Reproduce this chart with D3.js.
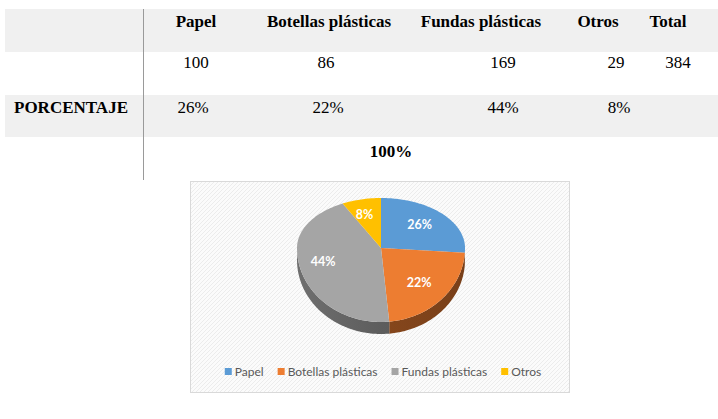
<!DOCTYPE html>
<html>
<head>
<meta charset="utf-8">
<script src="https://cdn.jsdelivr.net/npm/d3@7"></script>
<style>
html,body{margin:0;padding:0;background:#fff;}
svg{display:block;}
</style>
</head>
<body>
<svg id="c" width="718" height="419"></svg>
<script>
// ---- data ----
const categories = ["Papel", "Botellas plásticas", "Fundas plásticas", "Otros"];
const counts = [100, 86, 169, 29];
const totalLabel = "Total";
const totalCount = 384;
const percentLabels = ["26%", "22%", "44%", "8%"];
const rowLabel = "PORCENTAJE";
const totalPercent = "100%";
const colors = ["#5B9BD5", "#ED7D31", "#A5A5A5", "#FFC000"];

const svg = d3.select("#c");
const serif = "'Liberation Serif','Times New Roman',serif";

// ---- table ----
svg.append("rect").attr("x", 5).attr("y", 9).attr("width", 713).attr("height", 43).attr("fill", "#f0f0f0");
svg.append("rect").attr("x", 5).attr("y", 95).attr("width", 713).attr("height", 42).attr("fill", "#f0f0f0");
svg.append("line").attr("x1", 143.5).attr("x2", 143.5).attr("y1", 9).attr("y2", 180)
  .attr("stroke", "#9a9a9a").attr("stroke-width", 1);

const headerX = [196, 329, 481, 598, 668];
const countX = [196, 326, 503, 616, 678];
const pctX = [193, 328, 503, 619];

const headers = categories.concat([totalLabel]);
svg.selectAll("text.hdr").data(headers).enter().append("text")
  .attr("class", "hdr").attr("x", (d, i) => headerX[i]).attr("y", 27)
  .attr("text-anchor", "middle").attr("font-family", serif).attr("font-weight", "bold")
  .attr("font-size", 17).attr("fill", "#000").text(d => d);

svg.selectAll("text.cnt").data(counts.concat([totalCount])).enter().append("text")
  .attr("class", "cnt").attr("x", (d, i) => countX[i]).attr("y", 68)
  .attr("text-anchor", "middle").attr("font-family", serif)
  .attr("font-size", 17).attr("fill", "#000").text(d => d);

svg.append("text").attr("x", 14).attr("y", 113).attr("font-family", serif).attr("font-weight", "bold")
  .attr("font-size", 17).attr("fill", "#000").text(rowLabel);

svg.selectAll("text.pct").data(percentLabels).enter().append("text")
  .attr("class", "pct").attr("x", (d, i) => pctX[i]).attr("y", 113)
  .attr("text-anchor", "middle").attr("font-family", serif)
  .attr("font-size", 17).attr("fill", "#000").text(d => d);

svg.append("text").attr("x", 391).attr("y", 157).attr("text-anchor", "middle")
  .attr("font-family", serif).attr("font-weight", "bold").attr("font-size", 17)
  .attr("fill", "#000").text(totalPercent);

// ---- chart box ----
const defs = svg.append("defs");
const pat = defs.append("pattern").attr("id", "hatch").attr("patternUnits", "userSpaceOnUse")
  .attr("width", 4).attr("height", 4);
pat.append("rect").attr("width", 4).attr("height", 4).attr("fill", "#fbfbfb");
pat.append("path").attr("d", "M-1,1 l2,-2 M0,4 l4,-4 M3,5 l2,-2")
  .attr("stroke", "#ececec").attr("stroke-width", 1);

const box = {x: 190.5, y: 181.5, w: 379, h: 211};
svg.append("rect").attr("x", box.x).attr("y", box.y).attr("width", box.w).attr("height", box.h)
  .attr("fill", "url(#hatch)").attr("stroke", "#d9d9d9").attr("stroke-width", 1);

// ---- 3D pie ----
const cx = 381, cy = 248, RX = 84, RYT = 50, RYB = 74, DEPTH = 12;
function pt(theta, dy) {
  const s = Math.sin(theta), c = Math.cos(theta);
  const r = c > 0 ? RYT : RYB;
  return [cx + RX * s, cy - r * c + (dy || 0)];
}
function arcPts(a1, a2, dy) {
  const n = Math.max(2, Math.ceil((a2 - a1) / 0.02));
  const out = [];
  for (let i = 0; i <= n; i++) out.push(pt(a1 + (a2 - a1) * i / n, dy));
  return out;
}
const pie = d3.pie().sort(null).value(d => d);
const arcs = pie(counts);
const line = d3.line();

const gSide = svg.append("g");
const gTop = svg.append("g");

arcs.forEach((a, i) => {
  const s1 = Math.max(a.startAngle, Math.PI / 2);
  const s2 = Math.min(a.endAngle, 3 * Math.PI / 2);
  if (s2 > s1) {
    const top = arcPts(s1, s2, 0);
    const bot = arcPts(s1, s2, DEPTH).reverse();
    const base = d3.color(colors[i]);
    const gid = "side" + i;
    const grad = defs.append("linearGradient").attr("id", gid)
      .attr("gradientUnits", "userSpaceOnUse")
      .attr("x1", cx - RX).attr("x2", cx + RX).attr("y1", 0).attr("y2", 0);
    grad.append("stop").attr("offset", "0%").attr("stop-color", base.darker(1.1));
    grad.append("stop").attr("offset", "50%").attr("stop-color", base.darker(1.6));
    grad.append("stop").attr("offset", "100%").attr("stop-color", base.darker(1.9));
    gSide.append("path").attr("d", line(top.concat(bot)) + "Z").attr("fill", "url(#" + gid + ")");
  }
  const pts = [[cx, cy]].concat(arcPts(a.startAngle, a.endAngle, 0));
  gTop.append("path").attr("d", line(pts) + "Z").attr("fill", colors[i]);
});

const labF = 0.68;
svg.selectAll("text.lab").data(arcs).enter().append("text")
  .attr("class", "lab")
  .attr("x", d => pt((d.startAngle + d.endAngle) / 2)[0] * labF + cx * (1 - labF) - 3)
  .attr("y", d => pt((d.startAngle + d.endAngle) / 2)[1] * labF + cy * (1 - labF) + 4)
  .attr("text-anchor", "middle").attr("font-family", "Lato, 'Open Sans', sans-serif")
  .attr("font-weight", "bold").attr("font-size", 12.5).attr("fill", "#fff")
  .text((d, i) => percentLabels[i]);

// ---- legend ----
const leg = svg.append("g");
const items = leg.selectAll("g").data(categories).enter().append("g");
items.append("rect").attr("width", 7).attr("height", 7).attr("y", -8).attr("fill", (d, i) => colors[i]);
items.append("text").attr("x", 10).attr("y", 0).attr("font-family", "Lato, 'Open Sans', sans-serif")
  .attr("font-size", 12).attr("fill", "#595959").text(d => d);
let xpos = 0;
const offs = [];
items.each(function () {
  offs.push(xpos);
  const w = d3.select(this).select("text").node().getComputedTextLength();
  xpos += 10 + w + 14;
});
const legW = xpos - 14;
items.attr("transform", (d, i) => `translate(${offs[i]},0)`);
leg.attr("transform", `translate(${383 - legW / 2},376)`);
</script>
</body>
</html>
